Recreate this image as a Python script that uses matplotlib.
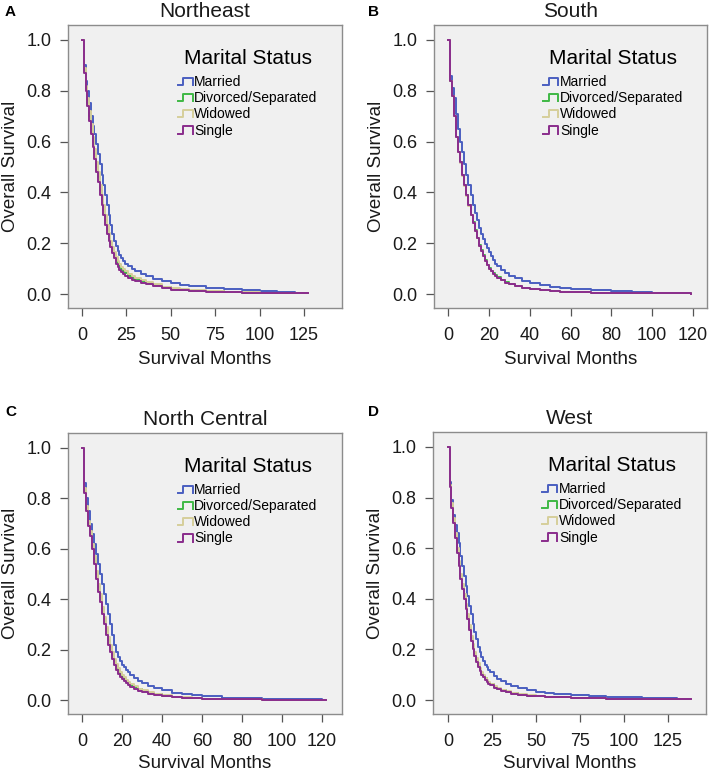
import matplotlib
matplotlib.use("Agg")
import matplotlib.pyplot as plt
from matplotlib.legend_handler import HandlerBase
from matplotlib.lines import Line2D

plt.rcParams['font.family'] = ['Liberation Sans', 'DejaVu Sans']

# ---------------- data ----------------
groups = ["Married", "Divorced/Separated", "Widowed", "Single"]
colors = ["#4a5fc0", "#3fb845", "#d6cf9a", "#8a2c8c"]

early_months = list(range(25)) + [26, 28, 30, 33, 36, 40, 45, 50, 55, 60, 70, 80, 90, 100, 110]

months_A = early_months + [120, 127]
A_married = [1.0, 0.90, 0.84, 0.80, 0.75, 0.70, 0.66, 0.63, 0.59, 0.55, 0.51, 0.47, 0.43, 0.39, 0.35, 0.31, 0.27, 0.235, 0.21, 0.19, 0.17, 0.155, 0.14, 0.13, 0.12,
             0.11, 0.10, 0.09, 0.08, 0.07, 0.06, 0.05, 0.042, 0.035, 0.03, 0.022, 0.018, 0.014, 0.01, 0.008, 0.006, 0.005]
A_divorced = [1.0, 0.88, 0.81, 0.75, 0.70, 0.65, 0.60, 0.55, 0.50, 0.46, 0.41, 0.37, 0.33, 0.29, 0.255, 0.225, 0.20, 0.175, 0.155, 0.135, 0.12, 0.108, 0.097, 0.088, 0.081,
              0.071, 0.064, 0.058, 0.05, 0.043, 0.034, 0.026, 0.02, 0.016, 0.013, 0.01, 0.008, 0.006, 0.005, 0.004, 0.003, 0.003]
A_widowed = [1.0, 0.89, 0.82, 0.77, 0.72, 0.67, 0.62, 0.57, 0.52, 0.48, 0.43, 0.39, 0.35, 0.31, 0.27, 0.24, 0.21, 0.185, 0.165, 0.145, 0.13, 0.118, 0.107, 0.098, 0.09,
             0.079, 0.071, 0.064, 0.056, 0.048, 0.038, 0.029, 0.022, 0.018, 0.015, 0.011, 0.009, 0.007, 0.006, 0.005, 0.004, 0.004]
A_single = [1.0, 0.87, 0.80, 0.74, 0.68, 0.63, 0.58, 0.53, 0.48, 0.44, 0.39, 0.35, 0.31, 0.27, 0.235, 0.21, 0.185, 0.16, 0.14, 0.12, 0.105, 0.095, 0.085, 0.078, 0.072,
            0.063, 0.057, 0.052, 0.045, 0.038, 0.03, 0.022, 0.017, 0.014, 0.012, 0.009, 0.007, 0.006, 0.005, 0.004, 0.003, 0.003]

months_B = early_months + [119]
B_married = [1.0, 0.86, 0.81, 0.77, 0.71, 0.65, 0.60, 0.56, 0.51, 0.47, 0.43, 0.39, 0.35, 0.32, 0.29, 0.26, 0.235, 0.215, 0.195, 0.18, 0.165, 0.15, 0.135, 0.12, 0.11,
             0.095, 0.082, 0.072, 0.062, 0.052, 0.043, 0.035, 0.029, 0.025, 0.021, 0.015, 0.01, 0.008, 0.006, 0.004, 0.003]
B_divorced = [1.0, 0.84, 0.78, 0.70, 0.62, 0.56, 0.52, 0.47, 0.43, 0.39, 0.35, 0.312, 0.282, 0.252, 0.222, 0.192, 0.172, 0.152, 0.132, 0.116, 0.101, 0.091, 0.081, 0.073, 0.066,
              0.055, 0.046, 0.039, 0.032, 0.025, 0.019, 0.014, 0.011, 0.009, 0.008, 0.006, 0.005, 0.004, 0.003, 0.003, 0.002]
B_widowed = [1.0, 0.84, 0.78, 0.70, 0.62, 0.56, 0.515, 0.465, 0.425, 0.385, 0.345, 0.31, 0.28, 0.25, 0.22, 0.19, 0.17, 0.15, 0.13, 0.115, 0.10, 0.09, 0.08, 0.072, 0.065,
             0.054, 0.045, 0.038, 0.031, 0.025, 0.019, 0.014, 0.011, 0.009, 0.008, 0.006, 0.005, 0.004, 0.003, 0.003, 0.002]
B_single = [1.0, 0.84, 0.78, 0.70, 0.62, 0.56, 0.52, 0.47, 0.43, 0.39, 0.35, 0.31, 0.28, 0.25, 0.22, 0.19, 0.17, 0.15, 0.13, 0.115, 0.10, 0.09, 0.08, 0.072, 0.065,
            0.054, 0.045, 0.038, 0.031, 0.025, 0.019, 0.014, 0.011, 0.009, 0.008, 0.006, 0.005, 0.004, 0.003, 0.003, 0.002]

months_C = early_months + [120, 122]
C_married = [1.0, 0.86, 0.80, 0.75, 0.70, 0.66, 0.62, 0.58, 0.54, 0.50, 0.46, 0.42, 0.38, 0.34, 0.30, 0.26, 0.22, 0.19, 0.17, 0.155, 0.14, 0.13, 0.12, 0.11, 0.10,
             0.087, 0.076, 0.066, 0.057, 0.048, 0.04, 0.03, 0.024, 0.019, 0.015, 0.01, 0.007, 0.005, 0.004, 0.003, 0.002, 0.002]
C_divorced = [1.0, 0.83, 0.76, 0.70, 0.66, 0.61, 0.56, 0.50, 0.45, 0.41, 0.36, 0.32, 0.28, 0.24, 0.21, 0.18, 0.155, 0.135, 0.118, 0.104, 0.093, 0.083, 0.074, 0.067, 0.061,
              0.051, 0.043, 0.036, 0.03, 0.024, 0.018, 0.013, 0.01, 0.008, 0.006, 0.004, 0.003, 0.002, 0.002, 0.001, 0.001, 0.001]
C_widowed = [1.0, 0.84, 0.77, 0.71, 0.67, 0.62, 0.57, 0.51, 0.46, 0.42, 0.37, 0.33, 0.29, 0.25, 0.22, 0.19, 0.165, 0.145, 0.127, 0.112, 0.10, 0.09, 0.08, 0.072, 0.065,
             0.055, 0.046, 0.039, 0.032, 0.026, 0.02, 0.014, 0.011, 0.008, 0.006, 0.004, 0.003, 0.002, 0.002, 0.001, 0.001, 0.001]
C_single = [1.0, 0.82, 0.75, 0.69, 0.65, 0.60, 0.54, 0.48, 0.43, 0.39, 0.34, 0.30, 0.26, 0.22, 0.19, 0.165, 0.14, 0.12, 0.105, 0.093, 0.083, 0.074, 0.066, 0.06, 0.054,
            0.045, 0.038, 0.032, 0.026, 0.021, 0.016, 0.012, 0.009, 0.007, 0.005, 0.004, 0.003, 0.002, 0.002, 0.001, 0.001, 0.001]

months_D = early_months + [120, 130, 138]
D_married = [1.0, 0.86, 0.79, 0.73, 0.69, 0.66, 0.62, 0.57, 0.53, 0.49, 0.45, 0.41, 0.37, 0.34, 0.30, 0.27, 0.24, 0.21, 0.19, 0.17, 0.155, 0.14, 0.13, 0.12, 0.11,
             0.096, 0.085, 0.075, 0.065, 0.056, 0.048, 0.04, 0.033, 0.028, 0.024, 0.019, 0.016, 0.013, 0.011, 0.009, 0.007, 0.006, 0.005]
D_divorced = [1.0, 0.85, 0.77, 0.71, 0.65, 0.59, 0.54, 0.49, 0.45, 0.41, 0.37, 0.33, 0.285, 0.245, 0.21, 0.185, 0.16, 0.14, 0.123, 0.108, 0.097, 0.086, 0.077, 0.069, 0.063,
              0.053, 0.045, 0.039, 0.033, 0.027, 0.022, 0.018, 0.015, 0.013, 0.011, 0.009, 0.007, 0.006, 0.005, 0.005, 0.004, 0.004, 0.004]
D_widowed = [1.0, 0.85, 0.78, 0.72, 0.66, 0.60, 0.55, 0.50, 0.46, 0.42, 0.38, 0.34, 0.295, 0.255, 0.22, 0.19, 0.165, 0.145, 0.127, 0.112, 0.10, 0.089, 0.08, 0.072, 0.065,
             0.055, 0.047, 0.04, 0.034, 0.028, 0.023, 0.019, 0.016, 0.014, 0.012, 0.009, 0.007, 0.006, 0.005, 0.005, 0.004, 0.004, 0.004]
D_single = [1.0, 0.84, 0.76, 0.70, 0.64, 0.58, 0.53, 0.48, 0.44, 0.40, 0.36, 0.32, 0.275, 0.235, 0.20, 0.175, 0.15, 0.13, 0.115, 0.10, 0.09, 0.08, 0.071, 0.064, 0.058,
            0.049, 0.042, 0.036, 0.03, 0.025, 0.021, 0.017, 0.015, 0.013, 0.011, 0.009, 0.007, 0.006, 0.005, 0.005, 0.004, 0.004, 0.004]

panel_letters = ["A", "B", "C", "D"]
panel_titles = ["Northeast", "South", "North Central", "West"]
panel_months = [months_A, months_B, months_C, months_D]
panel_series = [[A_married, A_divorced, A_widowed, A_single],
                [B_married, B_divorced, B_widowed, B_single],
                [C_married, C_divorced, C_widowed, C_single],
                [D_married, D_divorced, D_widowed, D_single]]
x_ticks = [[0, 25, 50, 75, 100, 125], [0, 20, 40, 60, 80, 100, 120],
           [0, 20, 40, 60, 80, 100, 120], [0, 25, 50, 75, 100, 125]]
x_limits = [(-7.9, 146.4), (-6.9, 126.9), (-7.0, 130.0), (-8.5, 146.6)]
y_ticks = [0.0, 0.2, 0.4, 0.6, 0.8, 1.0]


class StepHandler(HandlerBase):
    def create_artists(self, legend, orig_handle, xdescent, ydescent,
                       width, height, fontsize, trans):
        x0, y0 = -xdescent, -ydescent
        xs = [x0, x0 + 0.35 * width, x0 + 0.35 * width, x0 + width, x0 + width]
        ys = [y0 + 0.1 * height, y0 + 0.1 * height, y0 + 0.85 * height,
              y0 + 0.85 * height, y0 + 0.1 * height]
        ln = Line2D(xs, ys, color=orig_handle.get_color(),
                    lw=orig_handle.get_linewidth(), transform=trans)
        return [ln]


W, H = 709, 776
fig = plt.figure(figsize=(W / 100, H / 100), dpi=100)

# axes boxes in pixels: left, top, right, bottom
boxes = [(68, 25, 342, 308), (434, 25, 707, 308),
         (68, 433, 342, 714), (433, 432, 706, 714)]
letter_pos = [(5, 12), (368, 12), (5, 412), (368, 412)]

for i in range(4):
    l, t, r, b = boxes[i]
    ax = fig.add_axes([l / W, 1 - b / H, (r - l) / W, (b - t) / H])
    ax.set_facecolor("#f0f0f0")
    for s in ax.spines.values():
        s.set_color("#8c8c8c")
        s.set_linewidth(1.0)
    months = panel_months[i]
    handles = []
    for g, vals, c in zip(groups, panel_series[i], colors):
        h, = ax.step(months, vals, where="post", color=c, lw=1.4, label=g)
        handles.append(h)
    ax.set_xlim(*x_limits[i])
    ax.set_ylim(-0.055, 1.059)
    ax.set_xticks(x_ticks[i])
    ax.set_yticks(y_ticks)
    ax.set_yticklabels([f"{v:.1f}" for v in y_ticks])
    ax.tick_params(axis="both", labelsize=13, length=6, width=0.9,
                   color="#555555", direction="out", labelcolor="#1a1a1a")
    ax.tick_params(axis="x", pad=8)
    ax.tick_params(axis="y", pad=6)
    ax.set_xlabel("Survival Months", fontsize=13.5,
                  labelpad=(5 if i < 2 else 3), color="#1a1a1a")
    ax.set_ylabel("Overall Survival", fontsize=13.5, labelpad=5, color="#1a1a1a")
    ax.set_title(panel_titles[i], fontsize=15, pad=6, color="#1a1a1a")
    leg = ax.legend(handles=handles, title="Marital Status", loc="upper left",
                    bbox_to_anchor=(0.40, 0.915), frameon=False, fontsize=10,
                    title_fontsize=15, handlelength=1.1, handletextpad=0.1,
                    labelspacing=0.16, borderpad=0, borderaxespad=0,
                    handler_map={Line2D: StepHandler()})
    leg._legend_box.align = "center"
    leg._legend_box.sep = 5
    fig.text(letter_pos[i][0] / W, 1 - letter_pos[i][1] / H, panel_letters[i],
             fontsize=11, fontweight="bold", va="center", ha="left")

fig.savefig("out.png", dpi=100, facecolor="white")
